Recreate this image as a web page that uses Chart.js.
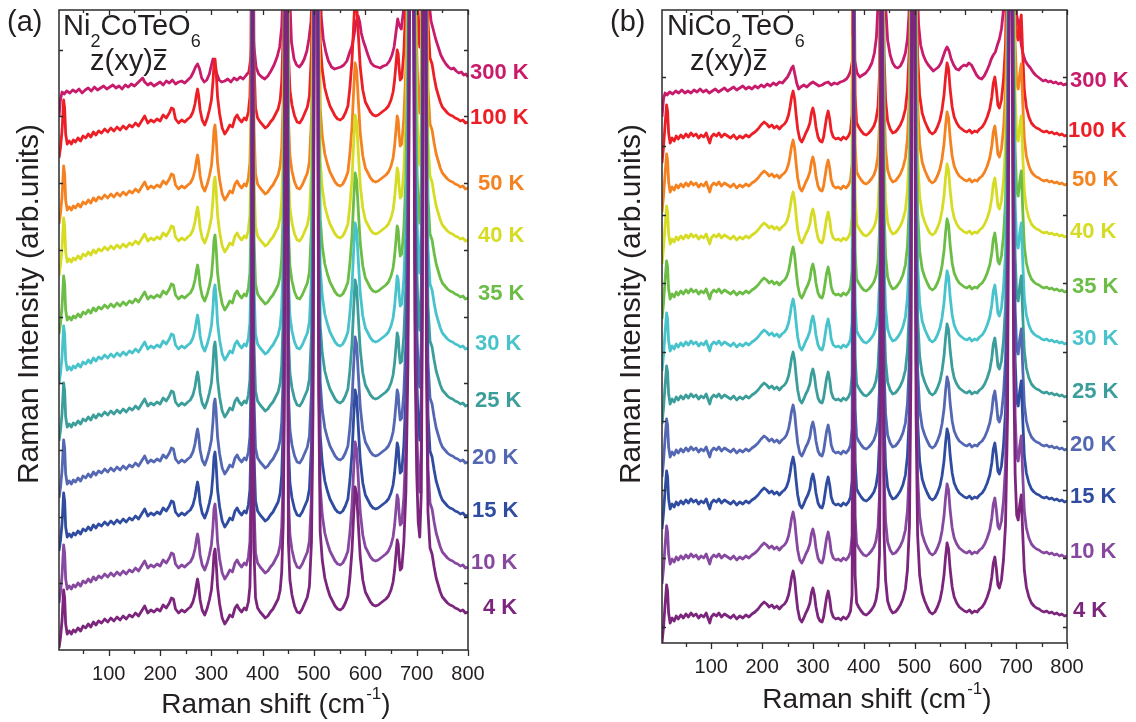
<!DOCTYPE html>
<html>
<head>
<meta charset="utf-8">
<script src="https://cdn.jsdelivr.net/npm/chart.js@4.4.0/dist/chart.umd.min.js"></script>
<style>
  body { margin: 0; background: #fff; width: 1136px; height: 722px; position: relative; overflow: hidden; }
  .panel { position: absolute; top: 0; width: 568px; height: 722px; }
</style>
</head>
<body>
<div class="panel" style="left:0"><canvas id="chartA" width="568" height="722"></canvas></div>
<div class="panel" style="left:568px"><canvas id="chartB" width="568" height="722"></canvas></div>
<script>
// temperatures, hottest first (same order as the labels from top to bottom)
var temps = ['300 K', '100 K', '50 K', '40 K', '35 K', '30 K', '25 K', '20 K', '15 K', '10 K', '4 K'];
var colors = ['#c81b6b', '#ed1f26', '#f58220', '#d6dc24', '#6cbd45', '#48c3cc', '#3c9e9b', '#5467b3', '#2f4ca0', '#8748a0', '#7c257d'];

// vertical offset of each spectrum (value at 800 cm-1), arb. units
var offsetA = [573, 528, 462, 410, 352, 302, 245, 188, 135, 83, 38];
var offsetB = [558, 508, 459, 407, 352, 300, 247, 194, 142, 87, 28];

// (a) Ni2CoTeO6, low temperature spectrum: shift (cm-1) and intensity above baseline
var aLowShift = [3, 6, 9, 12, 14, 16, 19, 23, 27, 31, 35, 40, 45, 50, 55, 60, 65, 70, 75, 80, 86, 92, 98, 104, 110, 116, 122, 128, 134, 140, 146, 152, 158, 164, 170, 176, 182, 188, 194, 200, 206, 212, 218, 222, 226, 230, 236, 242, 248, 254, 259, 264, 268, 271, 273, 275, 278, 282, 287, 292, 296, 300, 303, 305, 307, 309, 312, 316, 321, 326, 331, 336, 341, 346, 350, 354, 359, 364, 368, 372, 375, 377, 379, 380, 381, 383, 386, 390, 395, 400, 405, 410, 415, 420, 425, 430, 434, 437, 440, 442, 444, 446, 448, 450, 453, 457, 462, 467, 472, 477, 482, 487, 491, 495, 498, 501, 503, 505, 507, 509, 512, 516, 521, 526, 531, 536, 541, 546, 551, 556, 561, 566, 570, 574, 577, 580, 583, 586, 590, 595, 600, 605, 610, 615, 620, 625, 630, 635, 640, 645, 650, 654, 657, 660, 662, 664, 666, 668, 671, 675, 679, 683, 686, 688, 690, 692, 694, 697, 700, 703, 706, 709, 711, 713, 715, 717, 719, 722, 726, 730, 734, 738, 742, 746, 750, 755, 760, 765, 770, 775, 780, 785, 790, 795, 800];
var aLowInt = [-36, -25, -8, 22, 14, -12, -22, -19, -22, -18, -20, -16, -19, -14, -16, -12, -15, -10, -13, -9, -11, -7, -10, -6, -9, -5, -8, -4, -7, -3, -5, -1, -4, 1, 6, -1, 2, 0, 3, 1, 7, 4, 9, 14, 13, 3, -1, 2, 0, 3, 5, 10, 18, 28, 33, 27, 12, 2, -3, 4, 12, 22, 40, 58, 63, 52, 25, 8, -6, -12, -8, -3, -5, 4, 7, 3, 0, 4, 2, 10, 25, 70, 300, 1000, 300, 60, 14, 4, 0, -3, -6, -4, 0, 3, 8, 13, 22, 40, 90, 200, 600, 1000, 500, 70, 32, 17, 6, 0, -1, 3, 9, 15, 26, 70, 200, 700, 1000, 1000, 600, 220, 80, 52, 34, 24, 16, 11, 6, 3, 2, 4, 9, 16, 35, 62, 95, 125, 118, 90, 55, 32, 20, 15, 10, 7, 6, 7, 9, 11, 13, 16, 22, 30, 42, 60, 72, 68, 52, 42, 44, 70, 120, 250, 600, 1000, 1000, 1000, 600, 250, 140, 90, 75, 120, 300, 800, 1000, 800, 250, 100, 64, 58, 45, 34, 27, 20, 15, 12, 9, 7, 6, 4, 3, 1, 2, -1, 0];

// (a) Ni2CoTeO6, 300 K spectrum
var aHotShift = [3, 6, 9, 13, 18, 24, 30, 36, 42, 48, 54, 60, 66, 72, 78, 84, 90, 96, 102, 108, 114, 120, 126, 132, 138, 144, 150, 156, 162, 166, 170, 176, 182, 188, 194, 200, 206, 212, 218, 224, 230, 236, 242, 248, 254, 260, 265, 269, 273, 277, 281, 286, 291, 296, 300, 303, 306, 310, 315, 320, 326, 332, 338, 344, 350, 356, 362, 368, 373, 377, 380, 383, 387, 392, 398, 404, 410, 416, 422, 428, 433, 437, 441, 444, 446, 449, 452, 456, 461, 466, 471, 476, 481, 486, 490, 494, 497, 500, 503, 505, 507, 510, 514, 518, 523, 528, 534, 540, 546, 552, 558, 564, 569, 574, 578, 582, 586, 589, 592, 596, 600, 605, 611, 617, 623, 629, 635, 641, 647, 652, 656, 660, 663, 666, 670, 674, 678, 682, 686, 689, 692, 695, 699, 703, 707, 711, 714, 717, 720, 724, 728, 732, 737, 742, 747, 752, 757, 762, 767, 772, 777, 782, 787, 792, 796, 800];
var aHotInt = [-40, -22, -15, -17, -14, -16, -13, -15, -12, -16, -13, -11, -14, -10, -13, -11, -9, -12, -10, -8, -11, -9, -12, -8, -10, -7, -9, -6, -3, -1, -5, -8, -6, -9, -7, -5, -8, -4, -6, -3, -7, -5, -4, -6, -3, 0, 5, 10, 13, 8, -1, -5, -3, 3, 12, 18, 14, 4, -3, -5, -4, -2, -5, -1, -3, 0, -2, 2, 5, 20, 55, 30, 10, 3, 0, -2, 1, 6, 12, 20, 30, 50, 110, 400, 600, 300, 90, 35, 18, 12, 10, 13, 18, 26, 38, 55, 90, 200, 500, 600, 400, 130, 60, 38, 25, 16, 10, 8, 9, 10, 12, 16, 24, 31, 42, 55, 61, 55, 44, 36, 30, 22, 14, 11, 10, 9, 11, 12, 16, 22, 30, 46, 58, 52, 48, 65, 90, 150, 300, 600, 600, 400, 200, 140, 150, 300, 600, 400, 150, 75, 56, 48, 38, 30, 22, 17, 13, 10, 8, 9, 6, 4, 5, 2, 3, 0];

// (b) NiCo2TeO6, low temperature spectrum
var bLowShift = [3, 6, 9, 12, 14, 16, 19, 23, 27, 31, 35, 40, 45, 50, 55, 60, 65, 70, 75, 80, 85, 90, 94, 97, 100, 105, 110, 115, 120, 126, 132, 138, 144, 150, 156, 162, 168, 174, 180, 186, 192, 198, 204, 209, 214, 219, 224, 229, 234, 239, 244, 248, 252, 255, 258, 261, 264, 267, 270, 274, 278, 282, 286, 290, 294, 297, 300, 303, 306, 310, 314, 318, 321, 324, 327, 330, 333, 336, 340, 345, 350, 355, 360, 365, 370, 374, 377, 379, 380, 381, 383, 386, 390, 395, 400, 405, 410, 415, 420, 424, 428, 431, 433, 435, 437, 440, 443, 447, 452, 457, 462, 467, 472, 477, 482, 486, 490, 493, 496, 498, 500, 503, 506, 510, 515, 520, 525, 530, 535, 540, 545, 550, 554, 558, 561, 564, 567, 570, 574, 578, 583, 588, 593, 598, 603, 608, 613, 618, 623, 628, 633, 638, 643, 648, 652, 655, 658, 661, 664, 667, 671, 675, 679, 683, 686, 688, 690, 692, 695, 698, 701, 704, 707, 710, 713, 716, 720, 725, 730, 735, 740, 745, 750, 755, 760, 765, 770, 775, 780, 785, 790, 795, 800];
var bLowInt = [-28, -12, 10, 30, 24, 2, -8, -3, -6, -1, -4, 0, -3, 1, -2, 2, -1, 1, -3, 0, -2, 2, -4, -8, -2, 1, -1, 2, -2, 1, -1, -3, 0, -4, -1, -3, 0, -2, 1, 3, 6, 10, 13, 11, 8, 10, 7, 9, 6, 9, 11, 14, 20, 28, 38, 44, 36, 20, 6, -4, -7, -3, 2, 6, 12, 22, 27, 20, 8, -2, -6, -7, -2, 8, 18, 24, 16, 4, -2, -4, -3, -5, -2, -4, -1, 4, 20, 200, 1000, 200, 40, 12, 8, 4, 1, 0, 2, 5, 9, 15, 28, 60, 200, 1000, 400, 80, 35, 14, 6, 2, 3, 6, 10, 16, 26, 45, 90, 250, 900, 1000, 600, 200, 80, 40, 22, 14, 8, 3, 1, 3, 8, 15, 25, 40, 58, 72, 66, 46, 28, 18, 12, 8, 6, 4, 3, 5, 2, 4, 3, 6, 8, 12, 18, 26, 38, 52, 58, 46, 30, 27, 35, 55, 90, 200, 600, 1000, 1000, 600, 250, 140, 100, 95, 110, 120, 80, 45, 28, 18, 12, 9, 7, 6, 4, 3, 4, 2, 3, 1, 2, 0, 1, -1, 0];

// (b) NiCo2TeO6, 300 K spectrum
var bHotShift = [3, 6, 9, 13, 18, 24, 30, 36, 42, 48, 54, 60, 66, 72, 78, 84, 90, 96, 102, 108, 114, 120, 126, 132, 138, 144, 150, 156, 162, 168, 174, 180, 186, 192, 198, 204, 210, 216, 222, 228, 234, 240, 245, 250, 254, 258, 261, 264, 268, 272, 276, 282, 288, 294, 300, 306, 312, 318, 324, 330, 336, 342, 348, 354, 360, 366, 370, 374, 377, 380, 383, 387, 392, 398, 404, 410, 416, 421, 425, 428, 431, 434, 437, 440, 443, 447, 452, 457, 462, 467, 472, 477, 482, 486, 489, 492, 495, 498, 501, 504, 508, 512, 517, 522, 527, 532, 537, 542, 547, 552, 556, 560, 564, 568, 572, 577, 582, 587, 592, 597, 602, 607, 612, 617, 622, 627, 632, 637, 642, 647, 651, 655, 659, 663, 667, 671, 675, 679, 683, 686, 689, 692, 695, 698, 701, 704, 707, 710, 714, 718, 723, 728, 733, 738, 743, 748, 753, 758, 763, 768, 773, 778, 783, 788, 793, 797, 800];
var bHotInt = [-32, -14, -8, -10, -7, -9, -6, -8, -5, -8, -6, -8, -5, -7, -4, -7, -5, -8, -6, -4, -7, -5, -3, -6, -4, -2, -5, -3, -1, -4, -2, -4, -1, -3, 0, -2, 1, -1, 2, 0, 3, 2, 5, 8, 12, 17, 19, 12, 2, -4, -2, 0, -2, 1, 3, 1, -1, 0, 2, 3, 0, 2, 1, 3, 4, 6, 9, 14, 22, 30, 22, 12, 8, 10, 12, 16, 22, 32, 48, 80, 200, 600, 500, 200, 80, 45, 30, 22, 18, 17, 19, 24, 32, 46, 70, 150, 500, 600, 300, 120, 60, 40, 30, 24, 20, 17, 14, 16, 18, 22, 28, 34, 38, 34, 26, 20, 16, 15, 18, 20, 19, 22, 20, 15, 10, 7, 6, 9, 14, 20, 26, 30, 33, 40, 46, 56, 75, 120, 250, 600, 700, 500, 250, 120, 70, 62, 55, 40, 30, 24, 20, 17, 13, 10, 8, 6, 4, 5, 3, 4, 2, 3, 1, 2, 0, 1, 0];

var FONT = '"Liberation Sans", Arial, Helvetica, sans-serif';
var INK = '#231f20';
Chart.defaults.font.family = FONT;
Chart.defaults.color = INK;

function buildDatasets(offsets, lowX, lowY, hotX, hotY) {
  var sets = [];
  // 4 K first so it is drawn on top
  for (var i = temps.length - 1; i >= 0; i--) {
    var xs = i === 0 ? hotX : lowX;
    var ys = i === 0 ? hotY : lowY;
    var pts = [];
    for (var k = 0; k < xs.length; k++) {
      pts.push({x: xs[k], y: offsets[i] + ys[k]});
    }
    sets.push({
      label: temps[i],
      data: pts,
      borderColor: colors[i],
      borderWidth: 2.8,
      borderJoinStyle: 'round',
      pointRadius: 0,
      tension: 0,
      fill: false
    });
  }
  return sets;
}

function richText(ctx, x, y, parts, size) {
  parts.forEach(function (p) {
    var sub = p[1];
    ctx.font = (sub ? Math.round(size * 0.62) : size) + 'px ' + FONT;
    ctx.fillText(p[0], x, sub ? y + size * 0.4 : y);
    x += ctx.measureText(p[0]).width;
  });
  return x;
}

var decor = {
  id: 'decor',
  afterDraw: function (chart, args, o) {
    var ctx = chart.ctx, a = chart.chartArea;
    var xs = chart.scales.x, ys = chart.scales.y;
    ctx.save();
    ctx.strokeStyle = '#2b2b2b';
    ctx.lineWidth = 1.5;
    ctx.strokeRect(a.left, a.top, a.right - a.left, a.bottom - a.top);

    ctx.lineWidth = 1.3;
    ctx.beginPath();
    for (var v = 50; v <= 800; v += 50) {
      var px = Math.round(xs.getPixelForValue(v)) + 0.5;
      var major = v % 100 === 0;
      ctx.moveTo(px, a.bottom);
      ctx.lineTo(px, a.bottom + (major ? 6 : 4));
      ctx.moveTo(px, a.top);
      ctx.lineTo(px, a.top + (major ? 5 : 3));
    }
    for (var t = o.yTick0; t < ys.max; t += o.yStep) {
      var py = Math.round(ys.getPixelForValue(t)) + 0.5;
      ctx.moveTo(a.left, py);
      ctx.lineTo(a.left + 4, py);
      ctx.moveTo(a.right, py);
      ctx.lineTo(a.right - 4, py);
    }
    ctx.stroke();

    // temperature labels at the end of each spectrum
    ctx.font = 'bold 22px ' + FONT;
    ctx.textBaseline = 'middle';
    ctx.textAlign = 'left';
    for (var i = 0; i < temps.length; i++) {
      ctx.fillStyle = colors[i];
      ctx.fillText(temps[i], a.right + o.labelDx[i], ys.getPixelForValue(o.offsets[i]) - 4);
    }

    // axis titles
    ctx.fillStyle = INK;
    ctx.textBaseline = 'alphabetic';
    var p1 = 'Raman shift (cm', p2 = '-1', p3 = ')';
    ctx.font = '28px ' + FONT;
    var w1 = ctx.measureText(p1).width, w3 = ctx.measureText(p3).width;
    ctx.font = '17px ' + FONT;
    var w2 = ctx.measureText(p2).width;
    var tx = (a.left + a.right) / 2 + 12 - (w1 + w2 + w3) / 2;
    ctx.font = '28px ' + FONT;
    ctx.fillText(p1, tx, o.xTitleBase);
    ctx.fillText(p3, tx + w1 + w2 + 1, o.xTitleBase);
    ctx.font = '17px ' + FONT;
    ctx.fillText(p2, tx + w1 + 1, o.xTitleBase - 14);

    ctx.save();
    ctx.translate(o.yTitleX, 304);
    ctx.rotate(-Math.PI / 2);
    ctx.textAlign = 'center';
    ctx.textBaseline = 'middle';
    ctx.font = '30px ' + FONT;
    ctx.fillText('Raman Intensity (arb.units)', 0, 0);
    ctx.restore();

    // panel letter and sample name
    ctx.font = '29px ' + FONT;
    ctx.fillText(o.letter, o.letterX, 31);
    richText(ctx, a.left + o.nameDx, 35, o.name, 29);
    var zx = a.left + o.geoDx;
    ctx.font = '29px ' + FONT;
    ctx.fillText('z(xy)', zx, 70);
    var zw = ctx.measureText('z(xy)').width;
    ctx.fillText('z', zx + zw, 70);
    var zz = ctx.measureText('z').width;
    ctx.lineWidth = 2;
    ctx.strokeStyle = INK;
    ctx.beginPath();
    ctx.moveTo(zx + zw + 1, 50);
    ctx.lineTo(zx + zw + zz - 1, 50);
    ctx.stroke();
    ctx.restore();
  }
};

function makeChart(id, datasets, pad, xHeight, extra) {
  return new Chart(document.getElementById(id), {
    type: 'line',
    data: {datasets: datasets},
    options: {
      responsive: false,
      animation: false,
      devicePixelRatio: 1,
      layout: {padding: pad},
      plugins: {legend: {display: false}, tooltip: {enabled: false}, decor: extra},
      scales: {
        x: {
          type: 'linear',
          min: 3,
          max: 800,
          border: {display: false},
          grid: {display: false, drawTicks: false},
          afterBuildTicks: function (s) {
            var tk = [];
            for (var v = 100; v <= 800; v += 100) tk.push({value: v});
            s.ticks = tk;
          },
          afterFit: function (s) { s.height = xHeight; },
          ticks: {padding: 12, font: {size: 20}, color: INK, maxRotation: 0, autoSkip: false},
          title: {display: false}
        },
        y: {
          min: 0,
          max: extra.yMax,
          border: {display: false},
          grid: {display: false, drawTicks: false},
          ticks: {display: false},
          afterFit: function (s) { s.width = 59; },
          title: {display: false}
        }
      }
    },
    plugins: [decor]
  });
}

makeChart('chartA', buildDatasets(offsetA, aLowShift, aLowInt, aHotShift, aHotInt),
  {top: 10, right: 100, left: 0, bottom: 0}, 72, {
    yMax: 640, yTick0: 66.7, yStep: 66.7, offsets: offsetA,
    labelDx: [2, 2, 10, 10, 10, 7, 7, 4, 4, 3, 15],
    xTitleBase: 713, yTitleX: 30,
    letter: '(a)', letterX: 7, nameDx: 4, geoDx: 31,
    name: [['Ni', 0], ['2', 1], ['CoTeO', 0], ['6', 1]]
  });

makeChart('chartB', buildDatasets(offsetB, bLowShift, bLowInt, bHotShift, bHotInt),
  {top: 10, right: 69, left: 35, bottom: 0}, 79, {
    yMax: 633, yTick0: 16, yStep: 68.75, offsets: offsetB,
    labelDx: [3, 1, 5, 3, 5, 5, 5, 3, 3, 3, 6],
    xTitleBase: 708, yTitleX: 64,
    letter: '(b)', letterX: 42, nameDx: 5, geoDx: 28,
    name: [['NiCo', 0], ['2', 1], ['TeO', 0], ['6', 1]]
  });
</script>
</body>
</html>
